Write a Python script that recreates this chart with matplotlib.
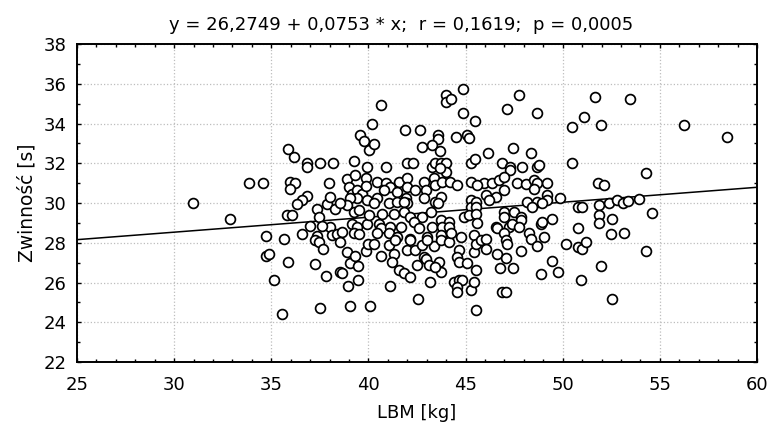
#!/usr/bin/env python3
"""Scatter LBM vs Zwinnosc with fitted regression line (Statistica-like look)."""

import matplotlib
matplotlib.use('Agg')
import matplotlib.pyplot as plt
from matplotlib.ticker import MultipleLocator

plt.rcParams['font.family'] = ['DejaVu Sans']

# regression from the chart title
INTERCEPT = 26.2749
SLOPE = 0.0753
R_VAL = 0.1619
P_VAL = 0.0005

# LBM [kg] (x) and Zwinnosc [s] (y)
lbm = [
    30.96, 32.85, 33.85, 34.55,
    35.86, 36.15, 36.84, 36.84, 37.53, 38.16, 39.24, 39.59, 39.76, 40.20, 40.02,
    35.98, 36.24, 35.95, 37.96, 36.84, 36.58, 36.32, 35.81, 36.07, 34.74, 35.64,
    36.58, 36.98, 37.35, 37.47, 37.87, 38.04, 38.27, 38.90, 38.99, 39.16, 39.42,
    39.67, 39.33, 39.85, 39.85, 39.42, 39.07, 39.24, 39.50, 38.90, 38.56, 39.16,
    39.42, 39.93, 38.04, 37.61, 37.35, 38.13, 38.39, 38.64, 39.24, 39.50,
    37.27, 37.44, 37.66, 38.56, 38.90, 39.04, 39.33, 39.45, 39.85, 39.97, 34.74,
    34.86, 35.86, 37.27, 37.84, 38.56, 38.64, 38.93, 39.45, 35.12, 35.55, 37.53,
    39.04,
    40.65, 43.97, 43.97, 44.26, 44.86, 44.86, 41.87, 42.65, 43.57, 43.57, 43.28,
    43.68, 42.77, 44.48, 45.05, 45.17, 40.28, 39.93, 40.88, 41.96, 42.30, 43.28,
    43.45, 43.71, 43.97, 43.97, 43.68, 45.26,
    40.45, 40.88, 41.10, 40.79, 41.56, 41.99, 41.99, 41.48, 42.42, 42.85, 42.94,
    43.37, 43.45, 43.80, 44.19, 44.57, 45.26, 39.93, 40.45, 40.28, 41.05, 41.48,
    41.91, 41.99, 41.82, 42.85, 43.45, 43.71, 43.59, 45.26, 45.26, 40.02, 40.70,
    41.30, 41.82, 42.16, 42.77, 43.20, 43.71, 44.14, 44.91, 45.17, 40.53, 40.62,
    41.13, 41.05, 41.65, 42.34, 42.60, 43.28, 43.80, 44.14, 40.45, 41.48, 42.16,
    43.02, 43.71, 44.74, 45.43,
    40.28, 40.62, 41.05, 41.39, 41.30, 41.22, 41.99, 42.16, 41.56, 41.82, 42.13,
    42.42, 42.51, 42.77, 42.85, 42.94, 43.11, 43.37, 43.02, 43.62, 43.71, 43.45,
    43.71, 44.14, 44.23, 44.65, 44.57, 44.65, 45.09, 45.43, 45.52, 45.52, 41.13,
    43.16, 42.54, 40.07, 44.40, 44.65, 44.83, 44.57, 44.57, 45.26, 45.43, 45.52,
    47.75, 47.15, 48.66, 45.46, 51.67, 50.46, 51.07,
    47.46, 46.15, 48.38, 45.46, 46.86, 47.92, 47.29, 47.29, 48.69, 48.78, 50.46,
    45.95, 46.37, 46.72, 46.98, 45.57, 47.66, 48.09, 48.52, 48.69, 49.18, 48.52,
    46.98, 46.03, 46.55, 46.20, 45.52, 49.18, 49.18, 49.86, 48.18, 48.69, 48.95,
    48.44, 45.52, 45.52, 46.98, 47.49, 46.98, 47.83, 47.83, 50.79, 51.01, 45.57,
    46.55, 46.63, 47.23, 47.41, 47.75, 48.87, 48.95, 49.47, 49.04, 50.76, 46.98,
    47.06, 47.15, 48.25, 48.35, 48.66, 45.77, 46.03, 46.03, 46.63, 47.06, 47.83,
    50.15, 50.76, 51.01, 51.19, 46.77, 47.46, 49.47, 49.76, 48.87, 46.89, 47.06,
    50.96,
    53.47, 51.96, 56.25, 58.45, 54.28, 51.82, 52.13, 51.87, 52.39, 52.78, 53.08,
    53.37, 53.95, 51.87, 51.87, 52.56, 52.47, 53.16, 54.57, 54.28, 51.96, 52.56,
]
zwinnosc = [
    30.01, 29.20, 31.02, 31.03,
    32.71, 32.33, 32.03, 31.79, 32.03, 32.03, 32.14, 33.42, 33.13, 34.00, 32.66,
    31.07, 31.02, 30.70, 31.03, 30.35, 30.14, 29.93, 29.42, 29.42, 28.35, 28.18,
    28.43, 28.85, 29.72, 29.30, 29.93, 30.31, 29.72, 31.20, 30.82, 30.48, 30.65,
    30.48, 31.40, 31.24, 30.85, 30.23, 30.23, 29.56, 29.64, 29.90, 29.98, 28.97,
    28.80, 28.97, 28.80, 28.85, 28.33, 28.38, 28.43, 28.55, 28.47, 28.43,
    28.13, 28.05, 27.68, 28.05, 27.54, 27.00, 27.33, 26.82, 27.59, 27.96, 27.34,
    27.43, 27.01, 26.92, 26.32, 26.53, 26.48, 25.81, 26.12, 26.12, 24.40, 24.72,
    24.81,
    34.93, 35.43, 35.10, 35.23, 35.74, 34.51, 33.70, 33.70, 33.42, 33.20, 32.90,
    32.61, 32.80, 33.30, 33.42, 33.25, 32.97, 31.79, 31.79, 32.03, 32.03, 31.79,
    32.03, 32.03, 32.03, 31.57, 31.74, 31.99,
    31.07, 31.02, 30.82, 30.68, 31.07, 31.24, 30.82, 30.56, 30.65, 31.07, 30.65,
    31.24, 30.90, 31.07, 31.07, 30.90, 31.07, 30.14, 30.23, 29.98, 29.98, 30.06,
    30.23, 29.98, 30.06, 30.23, 30.06, 30.31, 29.98, 30.14, 29.81, 29.39, 29.47,
    29.47, 29.56, 29.30, 29.30, 29.56, 29.14, 29.05, 29.30, 29.39, 28.97, 28.72,
    28.80, 28.47, 28.80, 29.05, 28.72, 28.80, 28.80, 28.80, 28.47, 28.30, 28.21,
    28.30, 28.38, 28.30, 28.38,
    27.93, 27.33, 27.88, 28.13, 27.46, 27.04, 27.63, 28.13, 26.62, 26.49, 26.28,
    27.63, 26.87, 27.88, 27.29, 27.16, 26.87, 27.83, 28.13, 27.04, 26.54, 26.79,
    28.13, 28.05, 28.47, 27.63, 27.29, 27.04, 26.99, 27.54, 27.93, 26.62, 25.81,
    26.03, 25.19, 24.81, 26.03, 26.12, 26.12, 25.78, 25.53, 25.61, 26.03, 24.64,
    35.43, 34.71, 34.51, 34.12, 35.35, 33.84, 34.31,
    32.78, 32.53, 32.53, 32.24, 32.03, 31.82, 31.82, 31.66, 31.79, 31.91, 32.03,
    31.02, 31.02, 31.15, 31.32, 30.93, 31.02, 30.98, 31.15, 31.02, 31.02, 30.73,
    30.65, 30.40, 30.31, 30.14, 30.06, 30.40, 30.14, 30.23, 30.06, 30.06, 30.01,
    29.81, 29.81, 29.47, 29.56, 29.56, 29.30, 29.30, 29.14, 29.81, 29.81, 29.00,
    28.80, 28.72, 28.80, 28.97, 28.80, 28.97, 29.05, 29.22, 28.30, 28.72, 28.47,
    28.13, 27.96, 28.50, 28.21, 27.84, 28.13, 28.21, 27.71, 27.46, 27.21, 27.60,
    27.96, 27.79, 27.71, 28.05, 26.71, 26.71, 27.09, 26.53, 26.42, 25.53, 25.53,
    26.12,
    35.22, 33.92, 33.92, 33.30, 31.52, 31.03, 30.90, 29.89, 30.01, 30.14, 29.98,
    30.11, 30.21, 29.42, 29.00, 29.22, 28.42, 28.50, 29.50, 27.61, 26.82, 25.19,
]

x_ticks = [25, 30, 35, 40, 45, 50, 55, 60]
y_ticks = [22, 24, 26, 28, 30, 32, 34, 36, 38]


def fmt(v, nd):
    return f'{v:.{nd}f}'.replace('.', ',')


fig = plt.figure(figsize=(7.71, 4.32), dpi=100)
ax = fig.add_axes([0.0999, 0.162, 0.882, 0.736])

ax.set_xlim(25, 60)
ax.set_ylim(22, 38)

xs = [25, 60]
ax.plot(xs, [INTERCEPT + SLOPE * v for v in xs], color='black', linewidth=1.1, zorder=2)
ax.scatter(lbm, zwinnosc, s=50, facecolors='white', edgecolors='black',
           linewidths=1.25, zorder=3, clip_on=False)

ax.set_xticks(x_ticks)
ax.set_yticks(y_ticks)
ax.xaxis.set_minor_locator(MultipleLocator(1))
ax.yaxis.set_minor_locator(MultipleLocator(1))
ax.tick_params(which='both', direction='in', top=True, right=True, labelsize=13,
               width=1.0)
ax.tick_params(which='major', length=3)
ax.tick_params(which='minor', length=2.5)
ax.tick_params(axis='x', pad=10)
ax.tick_params(axis='y', pad=7.5)
for s in ax.spines.values():
    s.set_linewidth(1.4)

ax.grid(True, which='major', linestyle=':', color='#bdbdbd', linewidth=0.9, zorder=0)
ax.set_axisbelow(True)

title = f'y = {fmt(INTERCEPT, 4)} + {fmt(SLOPE, 4)} * x;  r = {fmt(R_VAL, 4)};  p = {fmt(P_VAL, 4)}'
fig.text(0.52, 0.931, title, fontsize=13, ha='center', va='baseline')
ax.set_xlabel('LBM [kg]', fontsize=13, labelpad=7)
ax.set_ylabel('Zwinność [s]', fontsize=13.4, labelpad=5)

plt.savefig('out.png', dpi=100)
